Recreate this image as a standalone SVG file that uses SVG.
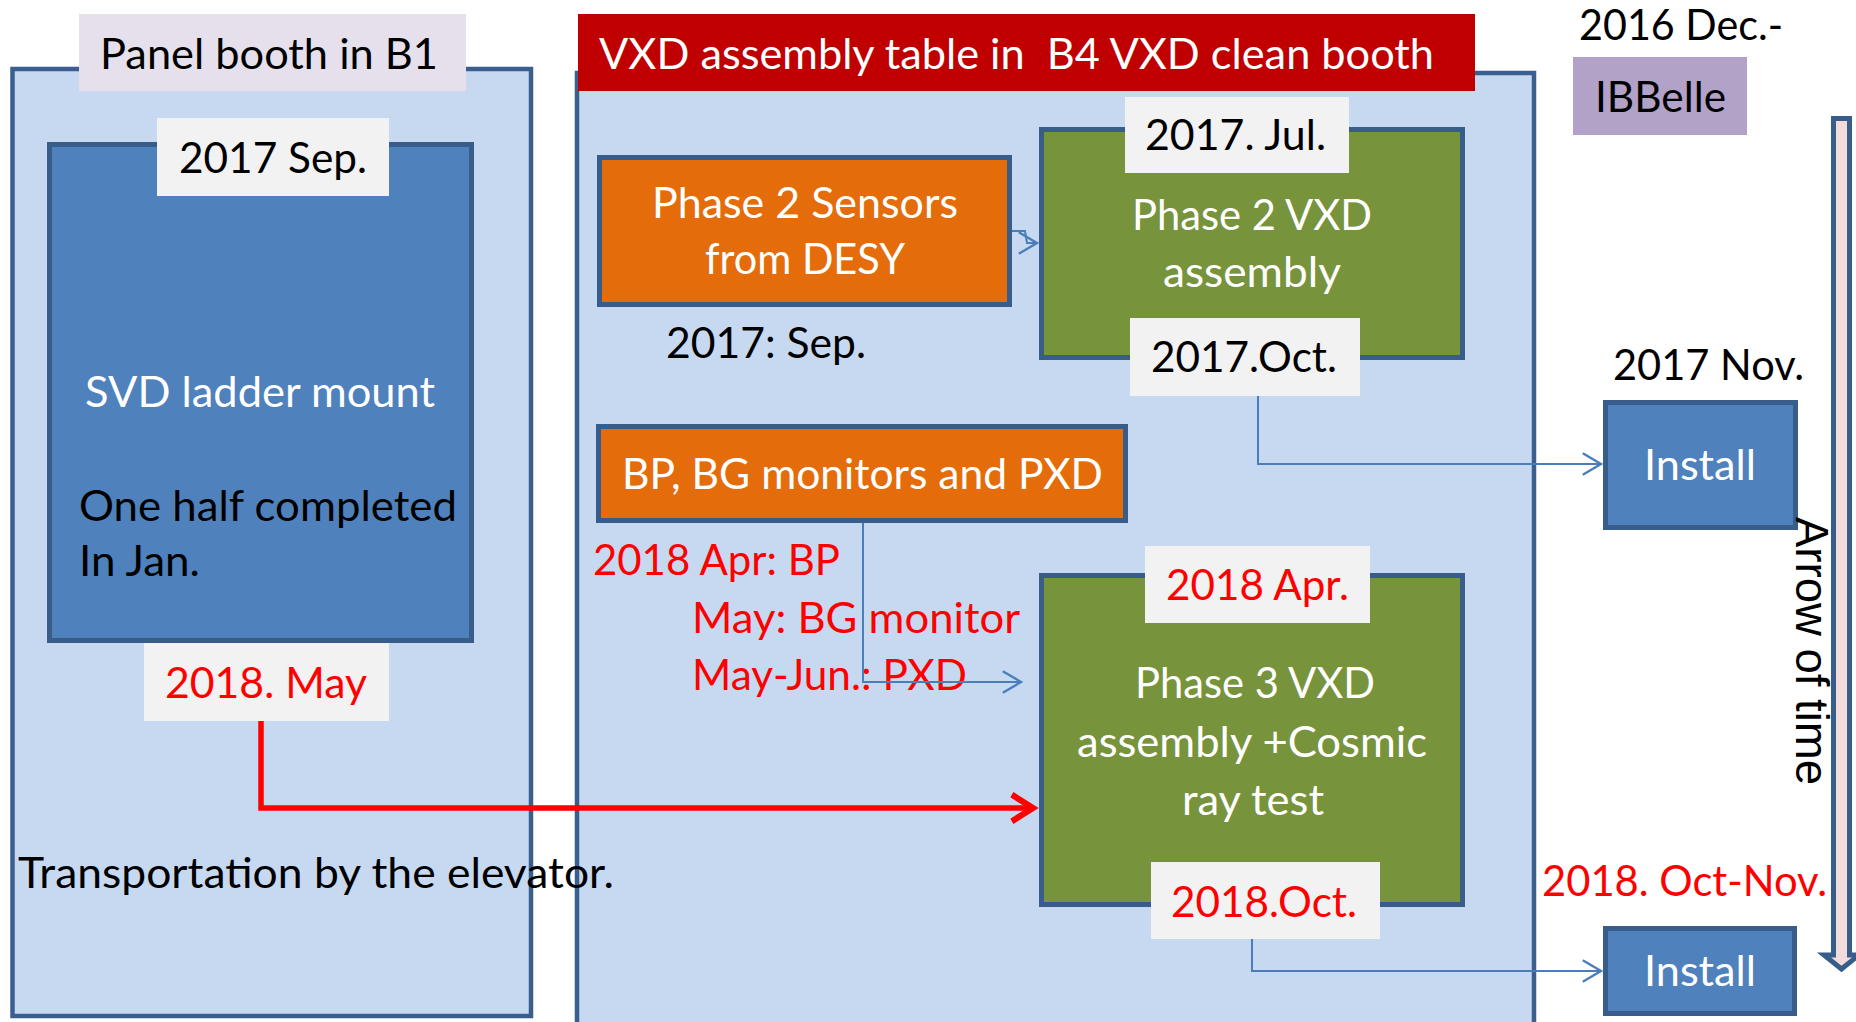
<svg xmlns="http://www.w3.org/2000/svg" width="1856" height="1022" viewBox="0 0 1856 1022">
  <style>
    .t { font-family: Lato, "Liberation Sans", sans-serif; font-size: 42px; white-space: pre; }
    .blk { fill: #000000; }
    .wht { fill: #FFFFFF; }
    .red { fill: #FF0000; }
    .mid { text-anchor: middle; }
    .panel { fill: #C6D9F1; stroke: #3A5F8F; stroke-width: 4.5; }
    .node { stroke: #385D8A; stroke-width: 5; }
    .blue { fill: #4F81BD; }
    .orange { fill: #E46C0A; }
    .green { fill: #77933C; }
    .tag { fill: #F2F2F2; }
    .conn { fill: none; stroke: #4A7EBB; stroke-width: 2; }
    .conn-red { fill: none; stroke: #FF0000; stroke-width: 5.5; }
  </style>
  <defs>
    <marker id="arrowBlue" markerUnits="userSpaceOnUse" markerWidth="30" markerHeight="30" viewBox="-20 -14 24 28" refX="0" refY="0" orient="auto">
      <path d="M-17,-10 L0,0 L-17,10" fill="none" stroke="#4A7EBB" stroke-width="2.2"/>
    </marker>
    <marker id="arrowRed" markerUnits="userSpaceOnUse" markerWidth="40" markerHeight="40" viewBox="-26 -18 36 36" refX="0" refY="0" orient="auto">
      <path d="M-19,-12 L0,0 L-19,12" fill="none" stroke="#FF0000" stroke-width="5.5"/>
    </marker>
  </defs>

  <!-- Panel booth in B1 -->
  <g id="panel-b1">
    <rect class="panel" x="12.5" y="69" width="518.5" height="947"/>
    <rect x="79" y="14" width="387" height="77" fill="#E6E0EC"/>
    <text class="t blk" x="100" y="69" textLength="338" lengthAdjust="spacingAndGlyphs">Panel booth in B1</text>
  </g>

  <!-- VXD clean booth -->
  <g id="panel-b4">
    <rect class="panel" x="577" y="73" width="957" height="965"/>
    <rect x="578" y="14" width="897" height="77" fill="#C00000"/>
    <text class="t wht" x="599" y="69" textLength="835" lengthAdjust="spacingAndGlyphs">VXD assembly table in  B4 VXD clean booth</text>
  </g>

  <!-- SVD ladder mount -->
  <g id="svd-ladder">
    <rect class="node blue" x="49.5" y="144.5" width="422" height="496"/>
    <text class="t wht mid" x="260" y="407" textLength="350" lengthAdjust="spacingAndGlyphs">SVD ladder mount</text>
    <text class="t blk" x="79" y="521" textLength="378" lengthAdjust="spacingAndGlyphs">One half completed</text>
    <text class="t blk" x="79" y="576" textLength="121" lengthAdjust="spacingAndGlyphs">In Jan.</text>
  </g>
  <g id="tag-2017-sep">
    <rect class="tag" x="157" y="118" width="232" height="78"/>
    <text class="t blk" x="179" y="173" textLength="188" lengthAdjust="spacingAndGlyphs">2017 Sep.</text>
  </g>
  <g id="tag-2018-may">
    <rect class="tag" x="144" y="643" width="245" height="78"/>
    <text class="t red" x="165" y="698" textLength="202" lengthAdjust="spacingAndGlyphs">2018. May</text>
  </g>

  <!-- Phase 2 sensors -->
  <g id="phase2-sensors">
    <rect class="node orange" x="599.5" y="157.5" width="410" height="147"/>
    <text class="t wht mid" x="805" y="218" textLength="306" lengthAdjust="spacingAndGlyphs">Phase 2 Sensors</text>
    <text class="t wht mid" x="805" y="274" textLength="200" lengthAdjust="spacingAndGlyphs">from DESY</text>
  </g>
  <g id="note-2017-sep">
    <text class="t blk" x="666" y="358" textLength="200" lengthAdjust="spacingAndGlyphs">2017: Sep.</text>
  </g>

  <!-- Phase 2 VXD assembly -->
  <g id="phase2-vxd">
    <rect class="node green" x="1041.5" y="129.5" width="421" height="228"/>
    <text class="t wht mid" x="1252" y="230" textLength="240" lengthAdjust="spacingAndGlyphs">Phase 2 VXD</text>
    <text class="t wht mid" x="1252" y="287" textLength="178" lengthAdjust="spacingAndGlyphs">assembly</text>
  </g>
  <g id="tag-2017-jul">
    <rect class="tag" x="1125" y="97" width="224" height="76"/>
    <text class="t blk" x="1145" y="150" textLength="181" lengthAdjust="spacingAndGlyphs">2017. Jul.</text>
  </g>
  <g id="tag-2017-oct">
    <rect class="tag" x="1130" y="318" width="230" height="78"/>
    <text class="t blk" x="1151" y="372" textLength="186" lengthAdjust="spacingAndGlyphs">2017.Oct.</text>
  </g>

  <!-- BP, BG monitors and PXD -->
  <g id="bp-bg-pxd">
    <rect class="node orange" x="598.5" y="426.5" width="527" height="94"/>
    <text class="t wht" x="622" y="489" textLength="481" lengthAdjust="spacingAndGlyphs">BP, BG monitors and PXD</text>
  </g>
  <g id="note-2018-deliveries">
    <text class="t red" x="593" y="575" textLength="247" lengthAdjust="spacingAndGlyphs">2018 Apr: BP</text>
    <text class="t red" x="692" y="633" textLength="328" lengthAdjust="spacingAndGlyphs">May: BG monitor</text>
    <text class="t red" x="692" y="690" textLength="275" lengthAdjust="spacingAndGlyphs">May-Jun.: PXD</text>
  </g>

  <!-- Phase 3 VXD assembly -->
  <g id="phase3-vxd">
    <rect class="node green" x="1041.5" y="575.5" width="421" height="329"/>
    <text class="t wht mid" x="1255" y="698" textLength="240" lengthAdjust="spacingAndGlyphs">Phase 3 VXD</text>
    <text class="t wht mid" x="1252" y="757" textLength="350" lengthAdjust="spacingAndGlyphs">assembly +Cosmic</text>
    <text class="t wht mid" x="1253" y="815" textLength="142" lengthAdjust="spacingAndGlyphs">ray test</text>
  </g>
  <g id="tag-2018-apr">
    <rect class="tag" x="1145" y="546" width="225" height="77"/>
    <text class="t red" x="1166" y="600" textLength="183" lengthAdjust="spacingAndGlyphs">2018 Apr.</text>
  </g>
  <g id="tag-2018-oct">
    <rect class="tag" x="1151" y="862" width="229" height="77"/>
    <text class="t red" x="1171" y="917" textLength="186" lengthAdjust="spacingAndGlyphs">2018.Oct.</text>
  </g>

  <!-- IBBelle column -->
  <g id="ibbelle">
    <text class="t blk" x="1579" y="40" textLength="204" lengthAdjust="spacingAndGlyphs">2016 Dec.-</text>
    <rect x="1573" y="57" width="174" height="78" fill="#B3A2C7"/>
    <text class="t blk" x="1595" y="112" textLength="131" lengthAdjust="spacingAndGlyphs">IBBelle</text>
  </g>
  <g id="install-1">
    <text class="t blk" x="1613" y="380" textLength="191" lengthAdjust="spacingAndGlyphs">2017 Nov.</text>
    <rect class="node blue" x="1605.5" y="402.5" width="190" height="125"/>
    <text class="t wht mid" x="1700" y="480" textLength="112" lengthAdjust="spacingAndGlyphs">Install</text>
  </g>
  <g id="install-2">
    <text class="t red" x="1542" y="896" textLength="285" lengthAdjust="spacingAndGlyphs">2018. Oct-Nov.</text>
    <rect class="node blue" x="1605.5" y="928.5" width="189" height="85"/>
    <text class="t wht mid" x="1700" y="986" textLength="112" lengthAdjust="spacingAndGlyphs">Install</text>
  </g>

  <!-- Time axis -->
  <g id="time-arrow">
    <path d="M1833.5,118.5 H1849.5 V955 H1859 L1841.5,969 L1824,955 H1833.5 Z" fill="#F2DCDB" stroke="#385D8A" stroke-width="5" stroke-linejoin="miter"/>
    <text transform="translate(1796,517) rotate(90)" font-family="'Liberation Sans', Arial, sans-serif" font-size="46" fill="#000000" textLength="268" lengthAdjust="spacingAndGlyphs">Arrow of time</text>
  </g>

  <!-- Transport note -->
  <g id="note-transport">
    <text class="t blk" x="18" y="888" textLength="596" lengthAdjust="spacingAndGlyphs">Transportation by the elevator.</text>
  </g>

  <!-- Connectors -->
  <g id="connectors">
    <path class="conn" d="M1012,231 H1025 L1027,243 H1037" marker-end="url(#arrowBlue)"/>
    <path class="conn" d="M1258,396 V464 H1601" marker-end="url(#arrowBlue)"/>
    <path class="conn" d="M863,523 V682 H1021" marker-end="url(#arrowBlue)"/>
    <path class="conn" d="M1252,939 V971 H1601" marker-end="url(#arrowBlue)"/>
    <path class="conn-red" d="M261,721 V808 H1033" marker-end="url(#arrowRed)"/>
  </g>
</svg>
